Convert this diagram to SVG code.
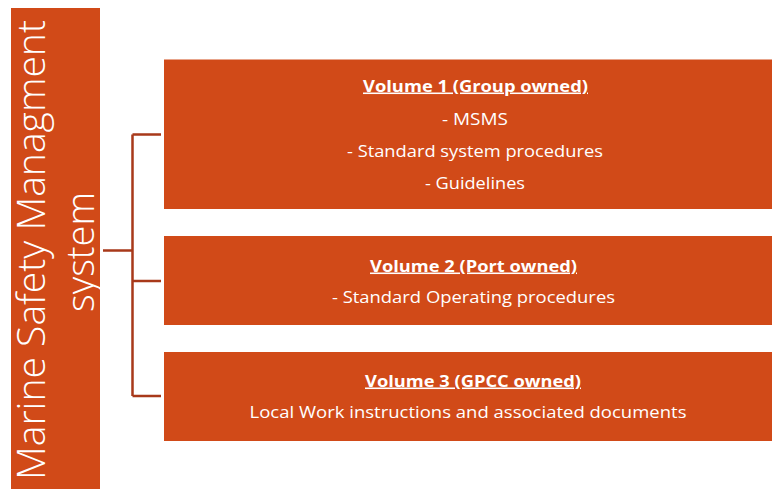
<svg xmlns="http://www.w3.org/2000/svg" width="772" height="489" viewBox="0 0 772 489">
<style>
.box{fill:#D14A18;}
.t{font-family:"Open Sans","Liberation Sans",sans-serif;fill:#FFFFFF;font-size:15.5px;text-anchor:middle;}
.h{font-weight:bold;text-decoration:underline;}
.v{font-family:"Open Sans","Liberation Sans",sans-serif;font-weight:300;fill:#FFFFFF;font-size:38px;text-anchor:middle;}
.c{fill:none;stroke:#A8391A;stroke-width:2.5;}
</style>
<rect width="772" height="489" fill="#FFFFFF"/>
<g id="root">
<rect class="box" x="11" y="8" width="89" height="481"/>
<text class="v" transform="translate(45,250) rotate(-90)" textLength="460" lengthAdjust="spacingAndGlyphs">Marine Safety Managment</text>
<text class="v" transform="translate(94,252) rotate(-90)" textLength="120" lengthAdjust="spacingAndGlyphs">system</text>
</g>
<g id="connectors">
<path class="c" d="M103,250.5 H132.5 M132.5,134.5 V396 M132.5,134.5 H161 M132.5,281 H161 M132.5,396 H161"/>
</g>
<g id="vol1">
<rect class="box" x="164" y="59.5" width="608" height="149.5"/>
<text class="t h" x="475.5" y="91.5" textLength="225" lengthAdjust="spacingAndGlyphs">Volume 1 (Group owned)</text>
<text class="t" x="475" y="124.5" textLength="66" lengthAdjust="spacingAndGlyphs">- MSMS</text>
<text class="t" x="475" y="157" textLength="256" lengthAdjust="spacingAndGlyphs">- Standard system procedures</text>
<text class="t" x="475" y="189" textLength="100" lengthAdjust="spacingAndGlyphs">- Guidelines</text>
</g>
<g id="vol2">
<rect class="box" x="164" y="236" width="608" height="89"/>
<text class="t h" x="473.5" y="271.5" textLength="207" lengthAdjust="spacingAndGlyphs">Volume 2 (Port owned)</text>
<text class="t" x="473.5" y="303" textLength="283" lengthAdjust="spacingAndGlyphs">- Standard Operating procedures</text>
</g>
<g id="vol3">
<rect class="box" x="164" y="352" width="608" height="89"/>
<text class="t h" x="473" y="386.5" textLength="216" lengthAdjust="spacingAndGlyphs">Volume 3 (GPCC owned)</text>
<text class="t" x="468" y="418" textLength="437" lengthAdjust="spacingAndGlyphs">Local Work instructions and associated documents</text>
</g>
</svg>
